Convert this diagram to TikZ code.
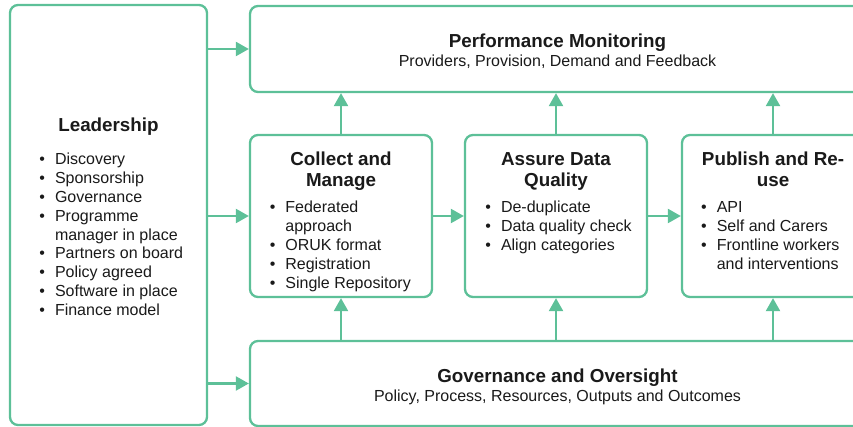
\documentclass[tikz,border=0pt]{standalone}
\usepackage{fontspec}
\setmainfont{Liberation Sans}
\usetikzlibrary{arrows.meta}
\definecolor{mint}{RGB}{93,192,152}
\definecolor{ink}{RGB}{26,26,26}
\begin{document}
\begin{tikzpicture}[x=1pt,y=-1pt,
  box/.style={draw=mint, line width=2.3pt, rounded corners=8pt, fill=white, inner sep=0pt},
  arr/.style={draw=mint, line width=2.3pt, -{Triangle[length=13pt,width=14pt]}},
  ttl/.style={font=\fontsize{18.8}{21}\selectfont\bfseries, text=ink, inner sep=0pt, anchor=base},
  sub/.style={font=\fontsize{16}{18.8}\selectfont, text=ink, inner sep=0pt, anchor=base},
  lst/.style={font=\fontsize{16}{18.8}\selectfont, text=ink, inner sep=0pt, anchor=base west},
]
\useasboundingbox (0,0) rectangle (853,427);
\clip (0,0) rectangle (853,427);

% boxes
\node[box, minimum width=197pt, minimum height=420pt] (lead) at (108.5,215) {};
\node[box, minimum width=615pt, minimum height=86pt] (perf) at (557.5,49) {};
\node[box, minimum width=182pt, minimum height=162pt] (collect) at (341,216) {};
\node[box, minimum width=182pt, minimum height=162pt] (assure) at (556,216) {};
\node[box, minimum width=182pt, minimum height=162pt] (publish) at (773,216) {};
\node[box, minimum width=615pt, minimum height=85pt] (gov) at (557.5,383.5) {};

% Leadership text
\node[ttl] (leadt) at (108.5,132) {Leadership};
\node[lst] (leadl) at (39.2,165) {\begin{tabular}[t]{@{}l@{\hspace{10pt}}l@{}}
\textbullet & Discovery\\
\textbullet & Sponsorship\\
\textbullet & Governance\\
\textbullet & Programme\\
 & manager in place\\
\textbullet & Partners on board\\
\textbullet & Policy agreed\\
\textbullet & Software in place\\
\textbullet & Finance model
\end{tabular}};

% Performance Monitoring
\node[ttl] (perft) at (557.5,48) {Performance Monitoring};
\node[sub] (perfs) at (557.5,67) {Providers, Provision, Demand and Feedback};

% Collect and Manage
\node[ttl] (collectt) at (341,166) {\begin{tabular}[t]{@{}c@{}}Collect and\\Manage\end{tabular}};
\node[lst] (collectl) at (269.6,213) {\begin{tabular}[t]{@{}l@{\hspace{10pt}}l@{}}
\textbullet & Federated\\
 & approach\\
\textbullet & ORUK format\\
\textbullet & Registration\\
\textbullet & Single Repository
\end{tabular}};

% Assure Data Quality
\node[ttl] (assuret) at (556,166) {\begin{tabular}[t]{@{}c@{}}Assure Data\\Quality\end{tabular}};
\node[lst] (assurel) at (485.2,213) {\begin{tabular}[t]{@{}l@{\hspace{10pt}}l@{}}
\textbullet & De-duplicate\\
\textbullet & Data quality check\\
\textbullet & Align categories
\end{tabular}};

% Publish and Re-use
\node[ttl] (publisht) at (773,166) {\begin{tabular}[t]{@{}c@{}}Publish and Re-\\use\end{tabular}};
\node[lst] (publishl) at (701,213) {\begin{tabular}[t]{@{}l@{\hspace{10pt}}l@{}}
\textbullet & API\\
\textbullet & Self and Carers\\
\textbullet & Frontline workers\\
 & and interventions
\end{tabular}};

% Governance and Oversight
\node[ttl] (govt) at (557.5,382) {Governance and Oversight};
\node[sub] (govs) at (557.5,401) {Policy, Process, Resources, Outputs and Outcomes};

% connectors
\draw[arr] (lead.east |- perf.west) -- (perf.west);
\draw[arr] (lead.east |- collect.west) -- (collect.west);
\draw[arr] (lead.east |- gov.west) -- (gov.west);
\draw[arr] (collect.east) -- (assure.west);
\draw[arr] (assure.east) -- (publish.west);
\draw[arr] (collect.north) -- (collect.north |- perf.south);
\draw[arr] (assure.north) -- (assure.north |- perf.south);
\draw[arr] (publish.north) -- (publish.north |- perf.south);
\draw[arr] (gov.north -| collect.south) -- (collect.south);
\draw[arr] (gov.north -| assure.south) -- (assure.south);
\draw[arr] (gov.north -| publish.south) -- (publish.south);
\end{tikzpicture}
\end{document}
